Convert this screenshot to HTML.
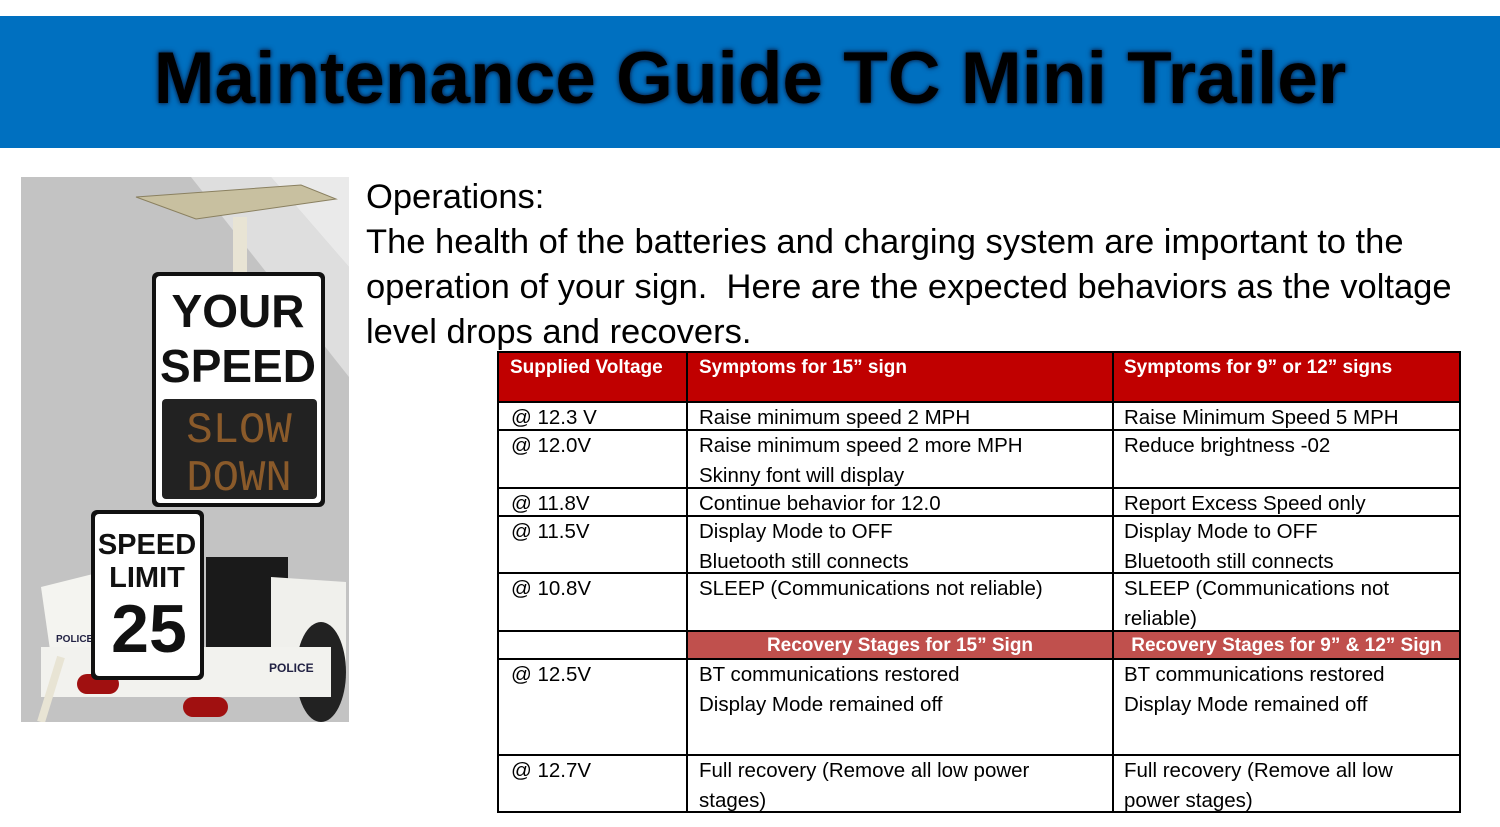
<!DOCTYPE html>
<html><head><meta charset="utf-8"><style>
body{margin:0;width:1500px;height:827px;background:#fff;position:relative;overflow:hidden;font-family:"Liberation Sans",sans-serif}
.ban{position:absolute;left:0;top:16px;width:1500px;height:132px;background:#0070C0}
.title{position:absolute;left:0;top:37px;width:1500px;text-align:center;font-weight:bold;font-size:73px;color:#000;text-shadow:0 0 6px #0a2a55,0 0 3px #0a2a55}
.ops{position:absolute;left:366px;top:175px;font-size:34.5px;line-height:45px;color:#000;white-space:nowrap}
.c{position:absolute;font-size:20.5px;line-height:30px;color:#000;white-space:nowrap}
.h{color:#fff;font-weight:bold;font-size:19px}
.l{position:absolute;background:#000}
</style></head><body>
<div class="ban"></div>
<div class="title">Maintenance Guide TC Mini Trailer</div>
<svg style="position:absolute;left:21px;top:177px" width="328" height="545" viewBox="0 0 328 545">
<rect width="328" height="545" fill="#c3c3c3"/>
<polygon points="170,0 250,0 328,90 328,200" fill="#dedede"/>
<polygon points="250,0 328,0 328,90" fill="#eaeaea"/>
<polygon points="115,20 280,8 315,22 175,42" fill="#c8c0a0" stroke="#8a8060"/>
<rect x="212" y="40" width="14" height="60" fill="#e8e4d4"/>
<rect x="131" y="95" width="173" height="235" rx="6" fill="#111"/>
<rect x="135" y="99" width="165" height="227" rx="4" fill="#fff"/>
<text x="217" y="150" font-size="46" font-weight="bold" text-anchor="middle" fill="#111">YOUR</text>
<text x="217" y="205" font-size="46" font-weight="bold" text-anchor="middle" fill="#111">SPEED</text>
<rect x="141" y="222" width="155" height="100" rx="4" fill="#222"/>
<text x="218" y="265" font-size="44" text-anchor="middle" fill="#8a5a2a" font-family="Liberation Mono">SLOW</text>
<text x="218" y="313" font-size="44" text-anchor="middle" fill="#8a5a2a" font-family="Liberation Mono">DOWN</text>
<rect x="185" y="380" width="82" height="100" fill="#1a1a1a"/>
<path d="M20,410 L100,390 L100,470 L30,480Z" fill="#f4f4f0"/>
<path d="M250,400 L325,405 L325,500 L250,520Z" fill="#f0f0ec"/>
<ellipse cx="300" cy="495" rx="25" ry="50" fill="#222"/>
<rect x="20" y="470" width="290" height="50" fill="#f2f2ee"/>
<line x1="40" y1="480" x2="20" y2="545" stroke="#e8e4d4" stroke-width="8"/>
<rect x="56" y="497" width="42" height="20" rx="10" fill="#a01010"/>
<rect x="162" y="520" width="45" height="20" rx="10" fill="#a01010"/>
<text x="35" y="465" font-size="10" font-weight="bold" fill="#224">POLICE</text>
<text x="248" y="495" font-size="12" font-weight="bold" fill="#224">POLICE</text>
<rect x="70" y="333" width="113" height="170" rx="6" fill="#111"/>
<rect x="74" y="337" width="105" height="162" rx="4" fill="#fff"/>
<text x="126" y="377" font-size="29" font-weight="bold" text-anchor="middle" fill="#111">SPEED</text>
<text x="126" y="410" font-size="29" font-weight="bold" text-anchor="middle" fill="#111">LIMIT</text>
<text x="128" y="475" font-size="68" font-weight="bold" text-anchor="middle" fill="#111">25</text>
</svg>
<div class="ops">Operations:<br>The health of the batteries and charging system are important to the<br>operation of your sign.&nbsp; Here are the expected behaviors as the voltage<br>level drops and recovers.</div>
<div style="position:absolute;left:498px;top:352px;width:962px;height:50px;background:#C00000"></div>
<div style="position:absolute;left:687px;top:631px;width:773px;height:28px;background:#C0504D"></div>
<div class="l" style="left:498px;top:351px;width:963px;height:2px"></div>
<div class="l" style="left:498px;top:401px;width:963px;height:2px"></div>
<div class="l" style="left:498px;top:429px;width:963px;height:2px"></div>
<div class="l" style="left:498px;top:487px;width:963px;height:2px"></div>
<div class="l" style="left:498px;top:515px;width:963px;height:2px"></div>
<div class="l" style="left:498px;top:572px;width:963px;height:2px"></div>
<div class="l" style="left:498px;top:630px;width:963px;height:2px"></div>
<div class="l" style="left:498px;top:658px;width:963px;height:2px"></div>
<div class="l" style="left:498px;top:754px;width:963px;height:2px"></div>
<div class="l" style="left:498px;top:811px;width:963px;height:2px"></div>
<div class="l" style="left:497px;top:351px;width:2px;height:462px"></div>
<div class="l" style="left:686px;top:351px;width:2px;height:462px"></div>
<div class="l" style="left:1112px;top:351px;width:2px;height:462px"></div>
<div class="l" style="left:1459px;top:351px;width:2px;height:462px"></div>
<div class="c h" style="left:510px;top:353px">Supplied Voltage</div>
<div class="c h" style="left:699px;top:353px">Symptoms for 15” sign</div>
<div class="c h" style="left:1124px;top:353px">Symptoms for 9” or 12” signs</div>
<div class="c" style="left:511px;top:403px">@ 12.3 V</div>
<div class="c" style="left:699px;top:403px">Raise minimum speed 2 MPH</div>
<div class="c" style="left:1124px;top:403px">Raise Minimum Speed 5 MPH</div>
<div class="c" style="left:511px;top:431px">@ 12.0V</div>
<div class="c" style="left:699px;top:431px">Raise minimum speed 2 more MPH<br>Skinny font will display</div>
<div class="c" style="left:1124px;top:431px">Reduce brightness -02</div>
<div class="c" style="left:511px;top:489px">@ 11.8V</div>
<div class="c" style="left:699px;top:489px">Continue behavior for 12.0</div>
<div class="c" style="left:1124px;top:489px">Report Excess Speed only</div>
<div class="c" style="left:511px;top:517px">@ 11.5V</div>
<div class="c" style="left:699px;top:517px">Display Mode to OFF<br>Bluetooth still connects</div>
<div class="c" style="left:1124px;top:517px">Display Mode to OFF<br>Bluetooth still connects</div>
<div class="c" style="left:511px;top:574px">@ 10.8V</div>
<div class="c" style="left:699px;top:574px">SLEEP (Communications not reliable)</div>
<div class="c" style="left:1124px;top:574px">SLEEP (Communications not<br>reliable)</div>
<div class="c h" style="left:687px;width:426px;text-align:center;top:631px">Recovery Stages for 15” Sign</div>
<div class="c h" style="left:1113px;width:347px;text-align:center;top:631px">Recovery Stages for 9” &amp; 12” Sign</div>
<div class="c" style="left:511px;top:660px">@ 12.5V</div>
<div class="c" style="left:699px;top:660px">BT communications restored<br>Display Mode remained off</div>
<div class="c" style="left:1124px;top:660px">BT communications restored<br>Display Mode remained off</div>
<div class="c" style="left:511px;top:756px">@ 12.7V</div>
<div class="c" style="left:699px;top:756px">Full recovery (Remove all low power<br>stages)</div>
<div class="c" style="left:1124px;top:756px">Full recovery (Remove all low<br>power stages)</div>
</body></html>
